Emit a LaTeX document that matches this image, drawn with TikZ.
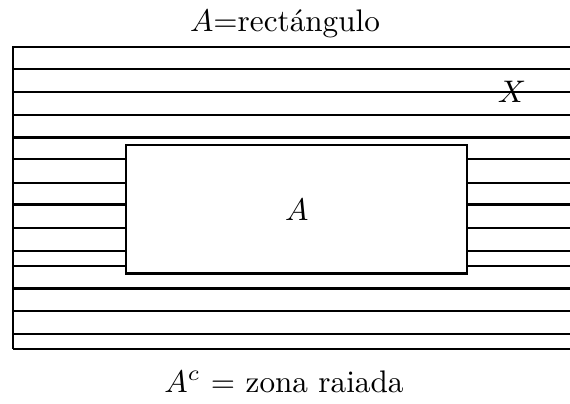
\documentclass[tikz,border=0pt]{standalone}
\begin{document}
\begin{tikzpicture}[x=0.3333pt,y=-0.3333pt,
  hline/.style={line width=0.7pt},
  thick hline/.style={line width=1pt},
  box/.style={draw,line width=0.8pt,fill=white},
  lbl/.style={scale=1.04}]
\useasboundingbox (0,0) rectangle (570,403);
\begin{scope}
\clip (0,0) rectangle (570,403);
\draw[hline] (13,46.7) -- (580,46.7);
\foreach \y in {68.7,91.7,114.7,159.3,182.7,227.7,250.7,266,310.7,334}
  \draw[hline] (13,\y) -- (580,\y);
\foreach \y in {137.3,204.7,288.3}
  \draw[thick hline] (13,\y) -- (580,\y);
\draw[hline] (13,348.7) -- (580,348.7);
\draw[hline] (13,46.4) -- (13,349);
\end{scope}
\node[box,minimum width=341*0.3333pt,minimum height=128.3*0.3333pt,inner sep=0pt] (A) at (296.7,209.2) {};
\node[lbl] (Alabel) at (296.7,209.5) {$A$};
\node[lbl] (X) at (512,92) {$X$};
\node[lbl,anchor=base] (title) at (285,31) {$A$=rectángulo};
\node[lbl,anchor=base] (comp) at (284,392) {$A^c$ = zona raiada};
\end{tikzpicture}
\end{document}
